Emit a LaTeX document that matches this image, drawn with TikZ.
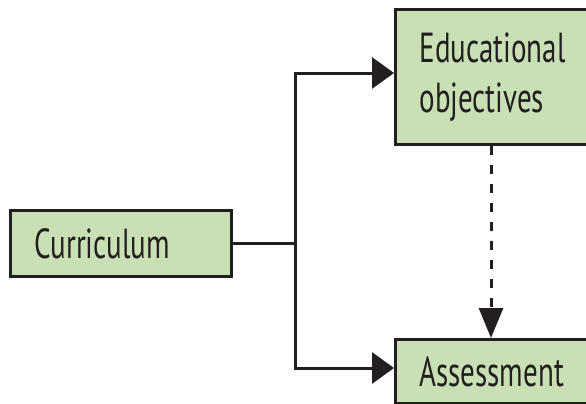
\documentclass[tikz,border=0pt]{standalone}
\usepackage{fontspec}
\setmainfont{PT Sans}[FakeStretch=0.69]
\usetikzlibrary{arrows.meta}
\definecolor{boxgreen}{HTML}{C9E0B5}
\definecolor{ink}{HTML}{231F20}
\tikzset{
  box/.style={draw=ink, line width=3pt, fill=boxgreen, rectangle,
    inner xsep=24pt, inner ysep=0pt, align=left, anchor=north west,
    font=\fontsize{42}{50}\selectfont, text=ink},
  link/.style={draw=ink, line width=3pt},
  harrow/.style={link, -{Triangle[length=22pt, width=31pt]}},
  varrow/.style={link, dash pattern=on 9pt off 10pt, -{Triangle[length=30pt, width=24pt]}}
}
\begin{document}
\begin{tikzpicture}[x=1pt, y=-1pt]
  \useasboundingbox (0,0) rectangle (586,404);
  \clip (0,0) rectangle (586,404);
  \node[box, minimum width=221pt, minimum height=66pt, text width=173pt] (cur) at (9,209) {Curriculum};
  \node[box, minimum width=240pt, minimum height=135pt, text width=192pt] (edu) at (394,8) {Educational\\objectives};
  \node[box, minimum width=240pt, minimum height=64pt, text width=192pt] (ass) at (394,338) {Assessment};
  \coordinate (j) at (cur.east -| 295,0);
  \draw[link] (cur.east) -- (j);
  \draw[harrow] (j) |- (edu.west |- 0,73);
  \draw[harrow] (j) |- (ass.west |- 0,368);
  \draw[varrow] (edu.south -| 491,0) -- (ass.north -| 491,0);
\end{tikzpicture}
\end{document}
